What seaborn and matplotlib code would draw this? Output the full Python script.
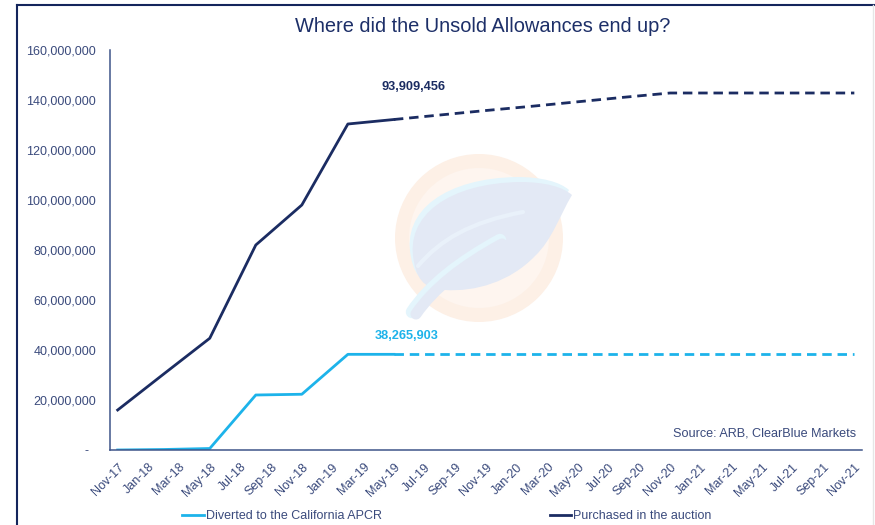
import numpy as np
import pandas as pd
import matplotlib
matplotlib.use("Agg")
import matplotlib.pyplot as plt
import seaborn as sns
from matplotlib.patches import Circle, PathPatch
from matplotlib.path import Path
from matplotlib.lines import Line2D
from matplotlib.ticker import FuncFormatter

# ---------------- data ----------------
all_months = [p.strftime("%b-%y") for p in pd.period_range("2017-11", "2021-11", freq="M")]
tick_labels = ["Nov-17", "Jan-18", "Mar-18", "May-18", "Jul-18", "Sep-18", "Nov-18",
               "Jan-19", "Mar-19", "May-19", "Jul-19", "Sep-19", "Nov-19", "Jan-20",
               "Mar-20", "May-20", "Jul-20", "Sep-20", "Nov-20", "Jan-21", "Mar-21",
               "May-21", "Jul-21", "Sep-21", "Nov-21"]

actual_months = ["Nov-17", "Feb-18", "May-18", "Aug-18", "Nov-18", "Feb-19", "May-19"]
purchased_actual = [16_000_000, 30_400_000, 44_700_000, 82_000_000, 98_000_000,
                    130_400_000, 132_200_000]
apcr_actual = [0, 200_000, 600_000, 22_000_000, 22_300_000, 38_265_903, 38_265_903]

proj_months = ["May-19", "Aug-19", "Nov-19", "Feb-20", "May-20", "Aug-20", "Nov-20",
               "Feb-21", "May-21", "Aug-21", "Nov-21"]
purchased_proj = [132_200_000, 134_000_000, 135_800_000, 137_500_000, 139_300_000,
                  141_100_000, 142_800_000, 142_800_000, 142_800_000, 142_800_000,
                  142_800_000]
apcr_proj = [38_265_903] * 11

label_purchased = "93,909,456"
label_apcr = "38,265,903"

series_names = ["Diverted to the California APCR", "Purchased in the auction"]

NAVY = "#1B2C62"
LIGHT = "#1DB3EA"
TXT = "#3A4A7C"
SPINE = "#3F5589"

pos = {m: i for i, m in enumerate(all_months)}

df_actual = pd.DataFrame({
    "idx": [pos[m] for m in actual_months] * 2,
    "value": purchased_actual + apcr_actual,
    "series": [series_names[1]] * len(actual_months) + [series_names[0]] * len(actual_months),
})
df_proj = pd.DataFrame({
    "idx": [pos[m] for m in proj_months] * 2,
    "value": purchased_proj + apcr_proj,
    "series": [series_names[1]] * len(proj_months) + [series_names[0]] * len(proj_months),
})

# ---------------- figure ----------------
W, H = 875, 525
fig = plt.figure(figsize=(W / 100, H / 100), dpi=100)
plt.rcParams["font.family"] = ["Liberation Sans", "DejaVu Sans"]

# background / watermark layer in pixel coords
bg = fig.add_axes([0, 0, 1, 1], zorder=0)
bg.set_xlim(0, W)
bg.set_ylim(H, 0)
bg.axis("off")
bg.add_patch(Circle((479, 238), 84, facecolor="#FDF0E6", edgecolor="none"))
bg.add_patch(Circle((479, 238), 70, facecolor="#FEF5EF", edgecolor="none"))

def leaf_path(dx=0, dy=0):
    verts = [
        (414, 262),
        (404, 215), (450, 183), (520, 182),
        (545, 182), (563, 187), (572, 195),
        (560, 215), (552, 240), (535, 256),
        (510, 282), (475, 292), (445, 290),
        (430, 289), (418, 285), (414, 262),
    ]
    codes = [Path.MOVETO] + [Path.CURVE4] * 15
    verts = [(x + dx, y + dy) for x, y in verts]
    return Path(verts, codes)

bg.add_patch(PathPatch(leaf_path(-3, -5), facecolor="#E4F5FC", edgecolor="none"))
bg.add_patch(PathPatch(leaf_path(), facecolor="#E3E9F5", edgecolor="none"))
# vein
vein = Path([(523, 212), (470, 222), (440, 240), (418, 266)],
            [Path.MOVETO, Path.CURVE4, Path.CURVE4, Path.CURVE4])
bg.add_patch(PathPatch(vein, facecolor="none", edgecolor="#E9F1FA", lw=3, capstyle="round"))
# stem
stem = Path([(412, 312), (430, 285), (460, 262), (500, 240)],
            [Path.MOVETO, Path.CURVE4, Path.CURVE4, Path.CURVE4])
bg.add_patch(PathPatch(stem, facecolor="none", edgecolor="#E4F5FC", lw=9, capstyle="round"))
stem2 = Path([(416, 314), (434, 288), (462, 266), (502, 244)],
             [Path.MOVETO, Path.CURVE4, Path.CURVE4, Path.CURVE4])
bg.add_patch(PathPatch(stem2, facecolor="none", edgecolor="#E3E9F5", lw=8, capstyle="round"))

# frame lines
bg.plot([17, 17], [5, H], color="#14255C", lw=1.5)
bg.plot([17, W], [5, 5], color="#14255C", lw=1.5)
bg.plot([873, 873], [5, H], color="#E6E6E6", lw=1)

# main axes
ax = fig.add_axes([110 / W, 1 - 450 / H, (862 - 110) / W, 400 / H], zorder=1)
ax.patch.set_alpha(0)

sns.lineplot(data=df_actual, x="idx", y="value", hue="series",
             palette={series_names[0]: LIGHT, series_names[1]: NAVY},
             linewidth=2.0, ax=ax, legend=False)
sns.lineplot(data=df_proj, x="idx", y="value", hue="series",
             palette={series_names[0]: LIGHT, series_names[1]: NAVY},
             linewidth=2.0, linestyle=(0, (3.4, 2.1)), ax=ax, legend=False)

ax.set_xlim(-0.5, len(all_months) - 0.5)
ax.set_ylim(0, 160_000_000)
ax.set_xticks([pos[m] for m in tick_labels])
ax.set_xticklabels(tick_labels, rotation=45, ha="right", va="top", rotation_mode="anchor")
ax.set_yticks(np.arange(0, 160_000_001, 20_000_000))
ax.yaxis.set_major_formatter(FuncFormatter(lambda v, p: "-  " if v == 0 else f"{int(v):,}"))
ax.tick_params(axis="both", length=0, colors=TXT, labelsize=9.0)
ax.tick_params(axis="y", pad=10)
ax.tick_params(axis="x", pad=8)
ax.set_xlabel("")
ax.set_ylabel("")
for s in ["top", "right"]:
    ax.spines[s].set_visible(False)
for s in ["left", "bottom"]:
    ax.spines[s].set_color(SPINE)
    ax.spines[s].set_linewidth(1.1)

ax.text(19.3, 145_200_000, label_purchased, color=NAVY, fontsize=9.2,
        fontweight="bold", ha="center", va="center")
ax.text(18.85, 45_600_000, label_apcr, color=LIGHT, fontsize=9.2,
        fontweight="bold", ha="center", va="center")
ax.text(0.992, 0.04, "Source: ARB, ClearBlue Markets", transform=ax.transAxes,
        color=TXT, fontsize=9.1, ha="right", va="center")

fig.text(483 / W, 1 - 27 / H, "Where did the Unsold Allowances end up?",
         color="#1D2F68", fontsize=14.4, ha="center", va="center")

handles = [Line2D([], [], color=LIGHT, lw=2.0), Line2D([], [], color=NAVY, lw=2.0)]
fig.legend(handles, series_names, loc="center", bbox_to_anchor=(447 / W, 1 - 516 / H),
           ncol=2, frameon=False, fontsize=9.0, labelcolor=TXT,
           handlelength=1.75, handletextpad=0.15, columnspacing=13.4)

fig.savefig("out.png", dpi=100)
